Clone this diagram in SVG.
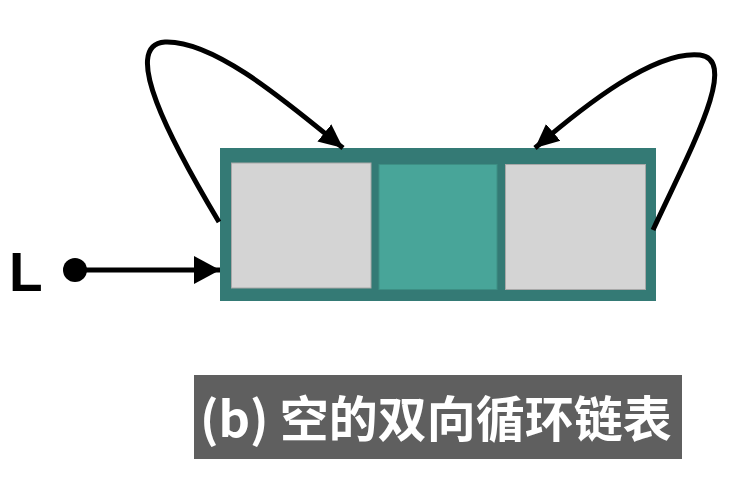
<svg xmlns="http://www.w3.org/2000/svg" width="746" height="498" viewBox="0 0 746 498">
<style>
.cell-g{fill:#d4d4d4;stroke:#a8a8a8;stroke-width:1}
.cell-t{fill:#48a599;stroke:#3d8f84;stroke-width:1}
.conn{fill:none;stroke:#000;stroke-width:5}
.lbl{font-family:"Liberation Sans",Arial,sans-serif;font-weight:bold;fill:#000}
.cap{font-family:"Noto Sans CJK SC","Noto Sans",sans-serif;font-weight:bold;fill:#fff}
</style>
<defs>
<marker id="ah" markerUnits="userSpaceOnUse" markerWidth="26" markerHeight="26" viewBox="0 0 26 26" refX="24" refY="13" orient="auto">
<path d="M0,2 L24,13 L0,24 Z" fill="#000"/>
</marker>
<marker id="ahL" markerUnits="userSpaceOnUse" markerWidth="28" markerHeight="30" viewBox="0 0 28 30" refX="26" refY="15" orient="auto">
<path d="M0,1 L26,15 L0,29 Z" fill="#000"/>
</marker>
</defs>
<rect width="746" height="498" fill="#fff"/>
<g id="list-node">
<rect x="220" y="148" width="436" height="153" fill="#347a75"/>
<rect class="cell-g" x="231.5" y="163" width="139.5" height="125"/>
<rect class="cell-t" x="379" y="164.5" width="118" height="125"/>
<rect class="cell-g" x="505.5" y="164.5" width="140" height="125"/>
</g>
<g id="head-L">
<text class="lbl" x="9" y="291" font-size="55">L</text>
<circle cx="75" cy="270" r="12" fill="#000"/>
</g>
<g id="connectors">
<path class="conn" d="M219,222 C170,140 120,45 165,42 C215,40 290,105 343,148" marker-end="url(#ah)"/>
<path class="conn" d="M653,230 C690,150 740,60 700,55 C655,50 585,105 535,148" marker-end="url(#ah)"/>
<path class="conn" d="M75,270 L220,270" stroke-width="5.5" marker-end="url(#ahL)"/>
</g>
<g id="caption">
<rect x="194" y="375" width="488" height="84" fill="#5f5f5f"/>
<text class="cap" x="200" y="437" font-size="49">(b) 空的双向循环链表</text>
</g>
</svg>
